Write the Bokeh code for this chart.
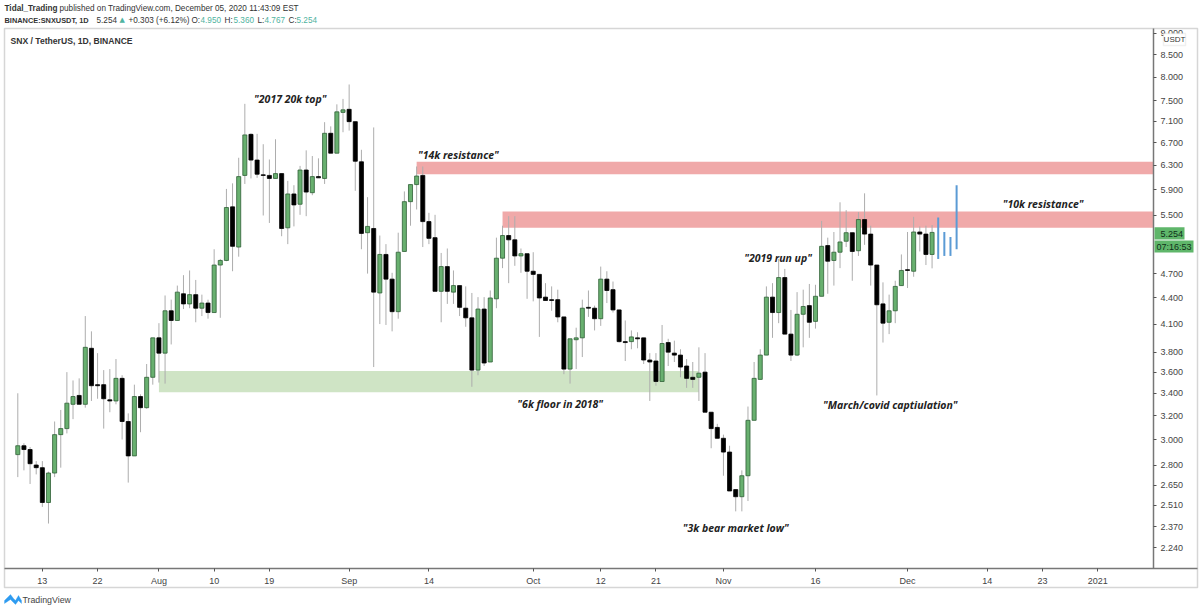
import math
from bokeh.plotting import figure
from bokeh.models import (Range1d, FixedTicker, PrintfTickFormatter, Label, BoxAnnotation,
                          PolyAnnotation, ColumnDataSource)
from bokeh.embed import file_html
from bokeh.resources import INLINE

opens = [2.88,2.95,2.92,2.80,2.78,2.53,2.74,3.04,3.09,3.30,3.38,3.30,3.84,3.48,3.48,3.34,3.33,3.54,3.15,2.87,
         3.37,3.27,3.55,3.95,3.79,4.25,4.14,4.45,4.33,4.44,4.28,4.34,4.23,4.81,4.87,5.63,5.05,6.13,6.85,6.39,
         6.14,6.13,6.08,6.16,5.32,5.83,5.67,6.22,5.85,6.11,6.08,6.87,6.51,7.27,7.33,7.09,6.36,5.25,5.31,4.46,
         4.95,4.63,4.24,4.99,5.71,5.98,6.13,5.41,5.18,4.48,4.79,4.47,4.55,4.28,4.17,3.62,4.27,3.70,4.39,4.90,
         5.21,5.15,4.93,4.96,4.73,4.69,4.41,4.38,4.38,4.18,3.63,3.93,3.95,4.29,4.28,4.16,4.63,4.50,4.26,3.91,
         3.91,3.95,3.95,3.72,3.71,3.51,3.90,3.79,3.77,3.66,3.55,3.55,3.60,3.23,3.10,3.01,2.90,2.62,2.57,2.72,
         3.16,3.53,3.77,4.41,4.23,4.65,3.99,3.77,4.21,4.31,4.13,4.42,5.07,4.87,4.98,5.13,5.25,5.00,5.44,5.23,
         4.81,4.33,4.12,4.25,4.55,4.75,4.73,5.26,5.23,4.95]
highs = [3.40,2.97,2.94,2.83,2.83,2.75,3.15,3.25,3.60,3.52,3.54,4.19,4.02,3.79,3.62,3.63,3.73,3.57,3.22,3.48,
         3.39,3.68,3.95,4.11,4.43,4.38,4.55,4.68,4.74,4.62,4.44,4.38,5.02,4.89,5.91,6.00,6.43,7.44,6.87,6.86,
         6.67,6.40,6.76,6.16,6.04,5.97,6.29,6.56,6.46,6.42,7.08,7.00,7.43,7.54,7.84,7.09,6.57,5.78,6.98,5.21,
         5.09,4.71,5.25,5.87,5.98,6.28,6.28,5.54,5.51,4.97,5.03,4.74,4.55,4.54,4.46,4.41,4.41,4.49,5.18,5.35,
         5.49,5.49,5.03,4.96,4.98,4.69,4.58,4.54,4.50,4.18,3.94,4.06,4.38,4.49,4.31,4.79,4.73,4.60,4.26,4.14,
         4.03,4.01,3.95,3.79,3.79,4.09,3.94,3.92,3.83,3.73,3.70,3.85,3.79,3.23,3.13,3.04,2.95,2.62,2.76,3.28,
         3.70,3.83,4.54,4.58,4.89,4.76,4.26,4.47,4.50,4.57,4.56,5.42,5.18,5.26,5.70,5.58,5.25,5.55,5.84,5.35,
         4.81,4.59,4.44,4.61,4.95,5.26,5.48,5.34,5.35,5.36]
lows = [2.71,2.76,2.66,2.73,2.50,2.39,2.71,2.78,3.05,3.17,3.30,3.27,3.33,3.35,3.09,3.23,3.30,3.00,2.67,2.87,
        3.06,3.26,3.48,3.50,3.49,3.88,4.14,4.27,4.28,4.12,4.19,4.16,4.23,4.17,4.86,4.73,4.92,5.99,6.08,6.09,
        5.50,5.39,6.08,5.20,5.09,5.34,5.51,5.49,5.81,6.09,5.99,6.51,6.51,6.89,6.92,5.88,5.02,4.70,3.65,4.10,
        4.09,4.02,4.16,4.99,5.35,5.59,5.05,5.09,4.48,4.12,4.33,4.33,4.19,4.07,3.46,3.57,3.66,3.70,4.28,4.77,
        4.58,4.80,4.71,4.39,4.36,3.96,4.37,4.25,4.12,3.58,3.49,3.63,3.75,4.18,4.03,4.08,4.34,4.23,3.90,3.71,
        3.83,3.84,3.68,3.33,3.47,3.51,3.66,3.70,3.55,3.45,3.45,3.33,3.23,2.93,3.01,2.72,2.61,2.47,2.47,2.54,
        3.16,3.53,3.77,3.95,4.11,3.99,3.71,3.76,3.85,3.95,4.05,4.42,4.45,4.55,4.77,5.05,4.61,4.93,5.08,4.55,
        3.38,3.90,3.99,4.11,4.55,4.52,4.66,4.99,4.81,4.767]
closes = [2.95,2.92,2.81,2.78,2.53,2.74,3.04,3.09,3.31,3.37,3.30,3.85,3.47,3.47,3.35,3.33,3.54,3.15,2.87,3.37,
          3.27,3.55,3.95,3.79,4.25,4.14,4.47,4.33,4.44,4.28,4.34,4.23,4.81,4.87,5.62,5.06,6.11,6.84,6.39,6.15,
          6.13,6.08,6.16,5.31,5.83,5.66,6.22,5.86,6.11,6.09,6.87,6.51,7.28,7.32,7.09,6.37,5.24,5.34,4.47,4.95,
          4.63,4.24,4.98,5.71,5.98,6.12,5.41,5.17,4.48,4.79,4.48,4.55,4.29,4.17,3.62,4.27,3.69,4.40,4.90,5.21,
          5.15,4.93,4.96,4.73,4.69,4.40,4.37,4.37,4.18,3.63,3.94,3.95,4.28,4.28,4.16,4.63,4.49,4.26,3.91,3.90,
          3.96,3.94,3.72,3.70,3.51,3.89,3.80,3.77,3.65,3.54,3.53,3.59,3.23,3.09,3.01,2.90,2.61,2.57,2.72,3.16,
          3.54,3.77,4.41,4.23,4.65,3.99,3.77,4.21,4.30,4.12,4.42,5.06,4.86,4.98,5.12,5.25,4.99,5.44,5.23,4.81,
          4.32,4.11,4.25,4.54,4.74,4.74,5.26,5.23,4.95,5.254]
proj_days = [150, 151, 152, 153]
proj_highs = [5.47, 5.26, 5.19, 5.97]
proj_lows = [4.89, 4.93, 4.93, 5.02]
zone_names = ["14k", "10k", "6k"]
zone_starts = [65, 79, 23]
zone_ends = [185, 185, 111]
zone_tops = [6.36, 5.56, 3.61]
zone_bottoms = [6.15, 5.32, 3.41]
note_texts = ['"2017 20k top"', '"14k resistance"', '"10k resistance"', '"2019 run up"',
              '"6k floor in 2018"', '"March/covid captiulation"', '"3k bear market low"']
note_days = [44.4, 71.8, 167.1, 123.9, 88.4, 142.2, 117.0]
note_prices = [7.53, 6.47, 5.68, 4.90, 3.30, 3.29, 2.36]
price_ticks = [9.0, 8.5, 8.0, 7.5, 7.1, 6.7, 6.3, 5.9, 5.5, 4.7, 4.4, 4.1, 3.8, 3.6, 3.4, 3.2, 3.0, 2.8, 2.65, 2.51, 2.37, 2.24]
day_ticks = [4, 13, 23, 32, 41, 54, 67, 84, 95, 104, 115, 130, 145, 158, 167, 176]
day_labels = ["13", "22", "Aug", "10", "19", "Sep", "14", "Oct", "12", "21", "Nov", "16", "Dec", "14", "23", "2021"]

W, H = 1200, 611
def X(px): return (px - 17.3) / 6.136
def Y(py): return 2.24 * math.exp((547 - py) / 369.6)

p = figure(width=W, height=H, output_backend="svg", toolbar_location=None,
           y_axis_type="log", y_axis_location="right",
           x_range=Range1d(X(0), X(W)), y_range=Range1d(Y(H), Y(0)),
           min_border=0, background_fill_color="white", border_fill_color="white")
p.grid.visible = False
p.outline_line_color = None

p.yaxis.fixed_location = X(1153)
p.xaxis.fixed_location = Y(568)
p.yaxis.bounds = (Y(568), Y(28))
p.xaxis.bounds = (X(4), X(1197))
p.yaxis.ticker = FixedTicker(ticks=price_ticks, minor_ticks=[])
p.yaxis.formatter = PrintfTickFormatter(format="%.3f")
p.xaxis.ticker = FixedTicker(ticks=day_ticks, minor_ticks=[])
p.xaxis.major_label_overrides = dict(zip(day_ticks, day_labels))
for ax in (p.xaxis, p.yaxis):
    ax.axis_line_color = "#777777"
    ax.axis_line_width = 1.5
    ax.major_tick_line_color = "#555555"
    ax.major_tick_out = 3
    ax.major_tick_in = 0
    ax.minor_tick_line_color = None
    ax.major_label_text_font = "Liberation Sans"
    ax.major_label_text_font_size = "9px"
    ax.major_label_text_color = "#444444"
p.yaxis.major_label_standoff = 4
p.xaxis.major_label_standoff = 4

# zones
p.quad(left=zone_starts, right=zone_ends, top=zone_tops, bottom=zone_bottoms,
       fill_color=["#f0a9a9", "#f0a9a9", "#cfe4c5"], line_color=None)

days = list(range(len(closes)))
up = [c >= o for o, c in zip(opens, closes)]
src = ColumnDataSource(dict(
    day=days, high=highs, low=lows,
    top=[max(o, c) for o, c in zip(opens, closes)],
    bottom=[min(o, c) for o, c in zip(opens, closes)],
    fill=["#68b06f" if u else "#000000" for u in up],
    line=["#2f5f36" if u else "#000000" for u in up]))
p.segment(x0="day", x1="day", y0="low", y1="high", source=src, line_color="#adadad", line_width=1)
p.vbar(x="day", width=0.66, top="top", bottom="bottom", source=src,
       fill_color="fill", line_color="line", line_width=0.8)
p.segment(x0=proj_days, x1=proj_days, y0=proj_lows, y1=proj_highs, line_color="#5b9bd5", line_width=2)

for t, d, v in zip(note_texts, note_days, note_prices):
    p.add_layout(Label(x=d, y=v, text=t, text_align="center", text_baseline="middle",
                       text_font="Open Sans", text_font_style="bold italic",
                       text_font_size="10.5px", text_color="#222222"))

def txt(px, py, text, color="#333333", style="normal", size="8.2px", font="Liberation Sans", align="left"):
    p.add_layout(Label(x=px, y=H - py, x_units="screen", y_units="screen", text=text, text_color=color,
                       text_font_style=style, text_font_size=size, text_font=font,
                       text_align=align, text_baseline="middle"))

def box(l, r, t, b, fill, line=None, alpha=1):
    p.add_layout(BoxAnnotation(left=l, right=r, top=t, bottom=b, left_units="canvas", right_units="canvas",
                               top_units="canvas", bottom_units="canvas", fill_color=fill, fill_alpha=alpha,
                               line_color=line, line_width=1.5 if line else 0))

TEAL = "#4fb3a0"
txt(4, 8, "Tidal_Trading", style="bold")
txt(59, 8, "published on TradingView.com, December 05, 2020 11:43:09 EST")
txt(4, 19.5, "BINANCE:SNXUSDT, 1D", style="bold", size="7.4px")
txt(96, 19.5, "5.254")
txt(119, 19.5, "▲", color=TEAL, size="7px", font="DejaVu Sans")
txt(128, 19.5, "+0.303 (+6.12%)")
for lx, l, vx, v in [(191, "O:", 200, "4.950"), (224, "H:", 233, "5.360"),
                     (257, "L:", 264, "4.767"), (288, "C:", 296, "5.254")]:
    txt(lx, 19.5, l)
    txt(vx, 19.5, v, color=TEAL)
txt(10, 40, "SNX / TetherUS, 1D, BINANCE", style="bold", size="8.6px")

box(4, 1197, 28, 587, "white", line="#777777", alpha=0)
box(1154, 1184, 226.7, 239, "#5fb66a")
box(1154, 1193, 240, 252, "#5fb66a")
txt(1160, 233, "5.254", color="#10301a", size="9px")
txt(1156, 246, "07:16:53", color="#10301a", size="9px")
box(1163, 1185, 33, 45, "white", line="#cccccc")
txt(1174, 39, "USDT", size="8px", align="center")
p.add_layout(PolyAnnotation(xs=list((4, 10, 13, 15, 18, 21, 21, 18, 15, 13, 10, 4)),
                            ys=[H - v for v in (600, 594, 598, 600, 595, 600, 603, 600, 604, 602, 599, 603)],
                            xs_units="screen", ys_units="screen",
                            fill_color="#2e9bf0", fill_alpha=1, line_color="#2e9bf0", line_width=1))
txt(22, 599, "TradingView", size="8.8px", color="#444444")

open("out.html", "w").write(file_html(p, INLINE))
